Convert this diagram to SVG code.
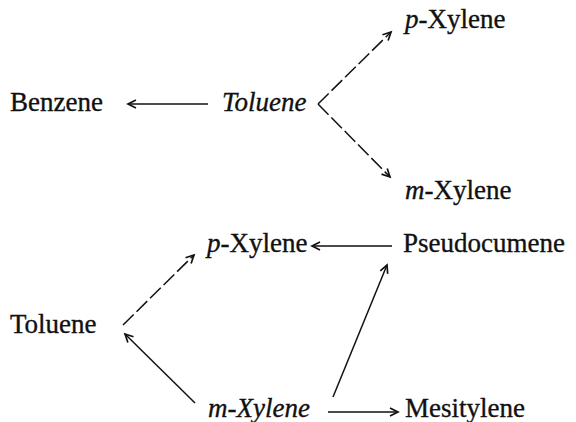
<svg xmlns="http://www.w3.org/2000/svg" width="576" height="422" viewBox="0 0 576 422">
<defs>
<style>
text{font-family:"Liberation Serif","Times New Roman",serif;font-size:27px;fill:#111;stroke:#111;stroke-width:0.35}
.it{font-style:italic}
.c{stroke:#111;stroke-width:1.5;fill:none;marker-end:url(#ah)}
.d{stroke-dasharray:15 4}
</style>
<marker id="ah" markerUnits="userSpaceOnUse" markerWidth="14" markerHeight="12" viewBox="-10 -6 12 12" refX="0" refY="0" orient="auto">
<path d="M-8,-4 L0,0 L-8,4" fill="none" stroke="#111" stroke-width="1.7"/>
</marker>
</defs>
<rect width="576" height="422" fill="#fff"/>
<g id="connectors">
<line class="c" x1="208" y1="104" x2="128" y2="104"/>
<line class="c d" x1="318" y1="104" x2="391" y2="32"/>
<line class="c d" x1="318" y1="104" x2="390" y2="177"/>
<line class="c d" x1="123" y1="325" x2="194" y2="255"/>
<line class="c" x1="392" y1="246" x2="312" y2="246"/>
<line class="c" x1="195" y1="403" x2="125" y2="334"/>
<line class="c" x1="333" y1="397" x2="387" y2="265"/>
<line class="c" x1="328" y1="412" x2="398" y2="412"/>
</g>
<g id="top-pxylene"><text x="405" y="28"><tspan class="it">p</tspan>-Xylene</text></g>
<g id="benzene"><text x="10" y="111">Benzene</text></g>
<g id="top-toluene"><text class="it" x="222" y="111">Toluene</text></g>
<g id="top-mxylene"><text x="405" y="199"><tspan class="it">m</tspan>-Xylene</text></g>
<g id="bottom-pxylene"><text x="207" y="252"><tspan class="it">p</tspan>-Xylene</text></g>
<g id="pseudocumene"><text x="403" y="252">Pseudocumene</text></g>
<g id="bottom-toluene"><text x="10" y="333">Toluene</text></g>
<g id="bottom-mxylene"><text class="it" x="208" y="417">m-Xylene</text></g>
<g id="mesitylene"><text x="405" y="417">Mesitylene</text></g>
</svg>
